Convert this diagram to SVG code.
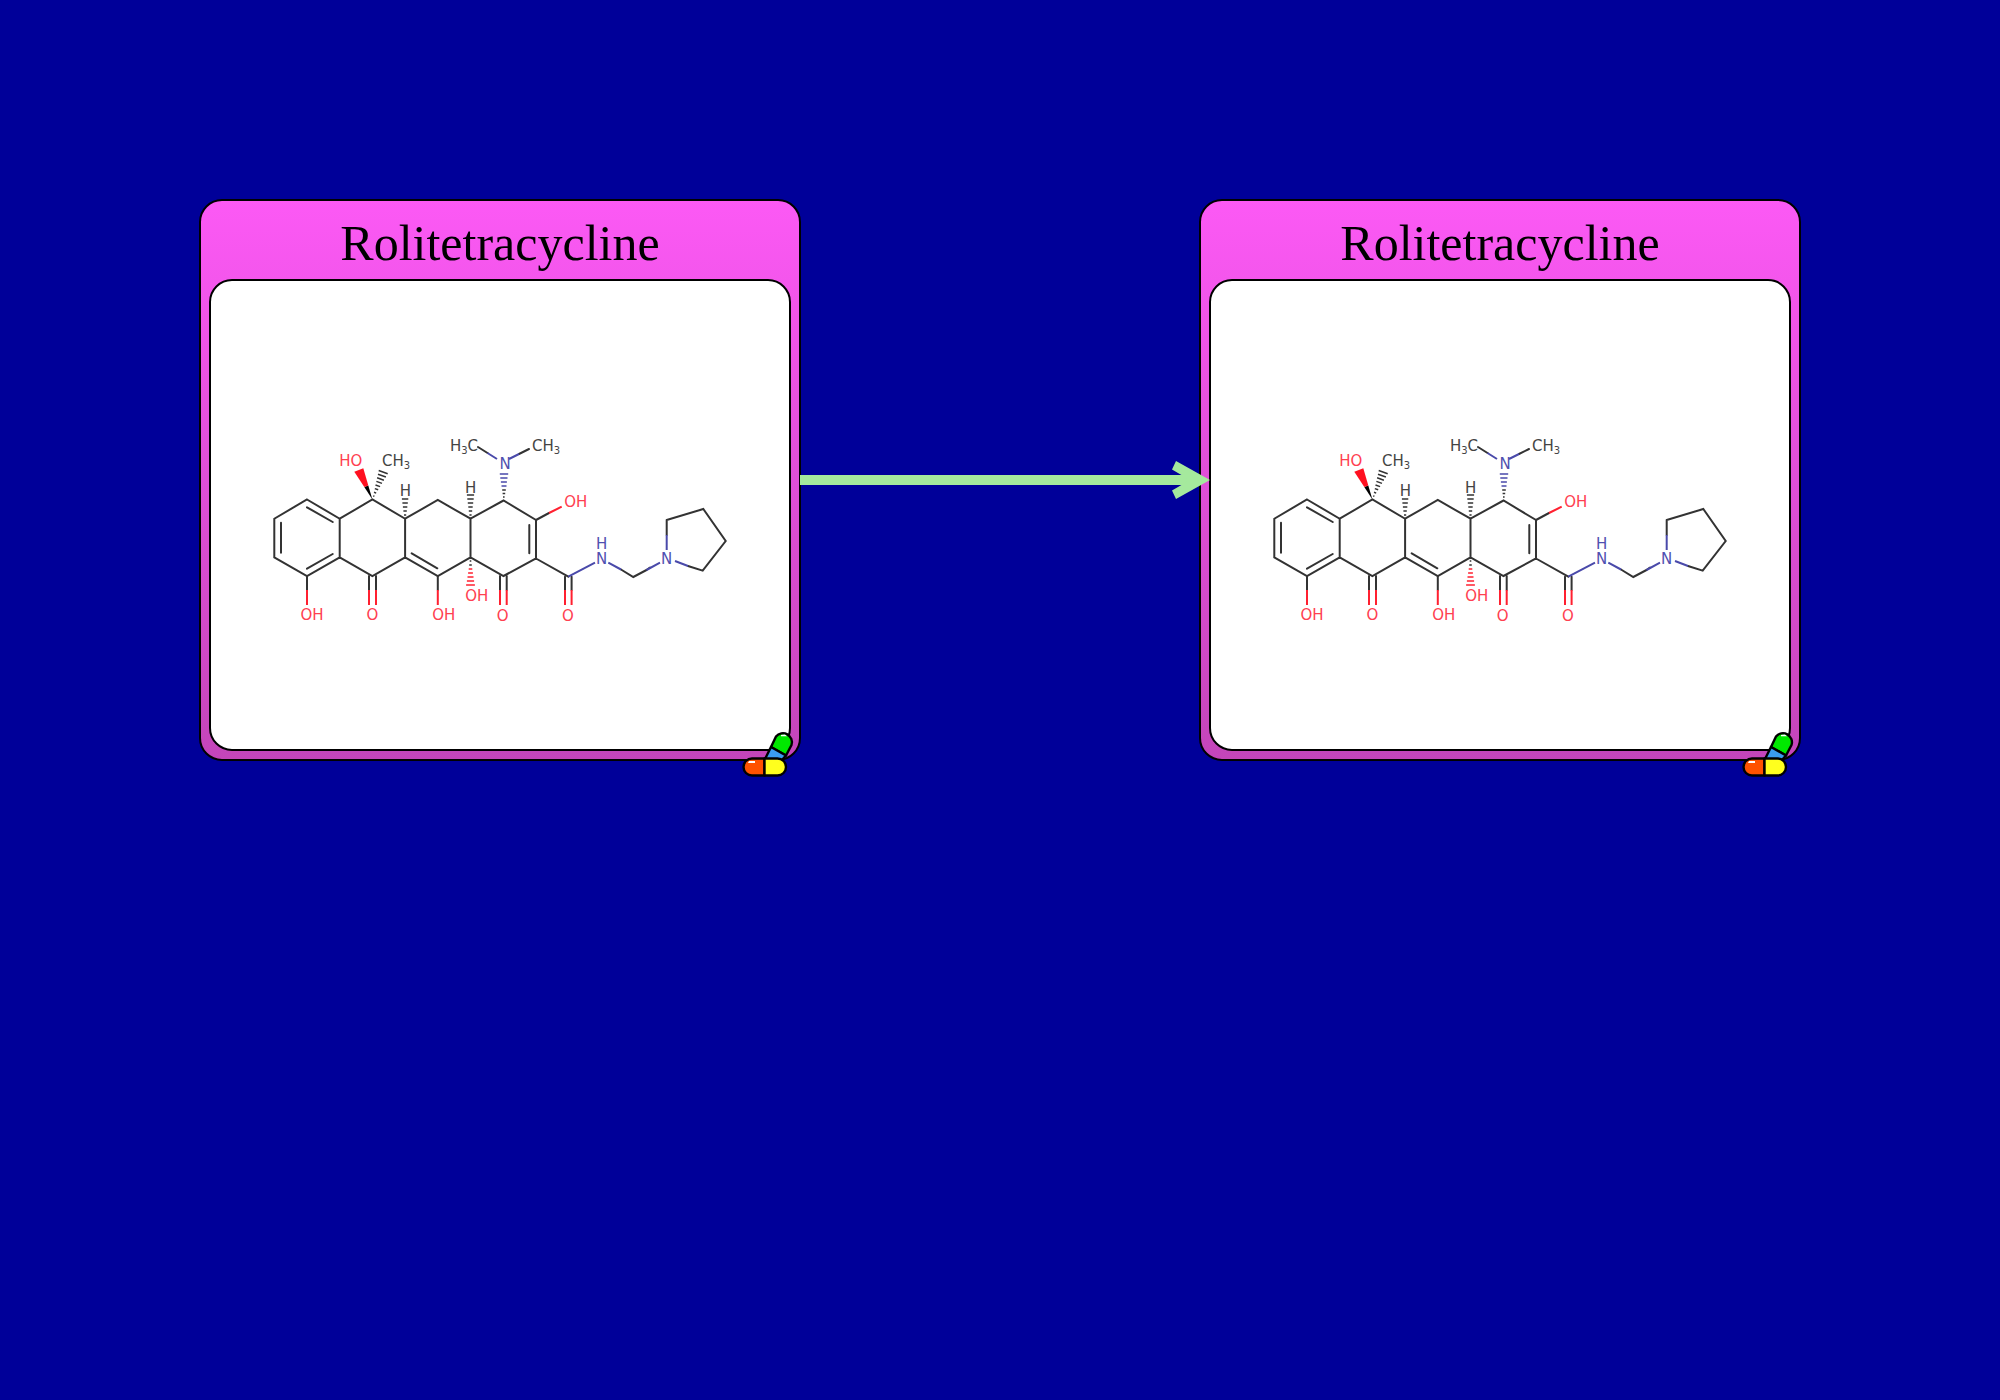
<svg xmlns="http://www.w3.org/2000/svg" width="2000" height="1400" viewBox="0 0 2000 1400">
<style>
.outer{fill:url(#pink);stroke:#000;stroke-width:2}
.inner{fill:#fff;stroke:#000;stroke-width:2}
.title{font-family:"Liberation Serif","Times New Roman",serif;font-size:50px;text-anchor:middle;fill:#000}
.b{fill:none;stroke:#333;stroke-width:2;stroke-linecap:round}
.r{fill:none;stroke:#ff2030;stroke-width:2}
.n{fill:none;stroke:#4a4aaa;stroke-width:2}
.w{stroke:#333;stroke-width:1.5}
.lb{font-family:"DejaVu Sans",sans-serif;font-size:15px;text-anchor:middle}
.sub{font-size:10px}
.o{fill:#ff4050}.m{fill:#5050b0}.k{fill:#444}
.pk{stroke:#000;stroke-width:2.4;stroke-linejoin:round}
.arrow{fill:none;stroke:#a5e99d;stroke-width:10}
</style>
<defs>
<linearGradient id="pink" x1="0" y1="0" x2="0" y2="1">
<stop offset="0" stop-color="#fc59f5"/><stop offset="1" stop-color="#c445ba"/>
</linearGradient>
<marker id="head" markerUnits="userSpaceOnUse" markerWidth="44" markerHeight="44" viewBox="0 0 44 44" refX="30" refY="22" orient="auto">
<polygon points="40,22 6,3 2,11.5 20,22 2,32.5 6,41" fill="#a5e99d"/>
</marker>
<g id="bonds">
<path class="b" d="M307 499.5L339.7 518.7V557.3L307 576L274.3 557.3V518.7ZM307 507.3L332.7 522M332.7 554L307 568.7M281 522.7V552.7M339.7 518.7L372.4 499.5L405.1 518.7V557.3L372.4 576L339.7 557.3M405.1 518.7L437.8 500L470.5 518.7V557.3L437.8 576L405.1 557.3M411.7 553.3L437.3 568.3M470.5 518.7L503.5 500.5L536 520V558.5L503.5 576L470.5 557.3M529.3 525V553.3M536 558.5L568.3 576.7"/>
<path class="b" d="M307 576V590M369 576V590M376 576V590M437.8 576V590M500 576V590M506.7 576V590M565 576.7V590M571.6 576.7V590M536 520L549 513M478 447L487.5 453M519 454L529 449"/>
<path class="b" d="M646.5 570L650 567.5M666.7 520L703.3 509L725.7 541L702.7 570.7L688 566M666.7 520V535M621 569.5L633.3 577L646.5 570"/>
<path class="r" d="M307 590V605M369 590V605M376 590V605M437.8 590V605M500 590V605M506.7 590V605M565 590V605M571.6 590V605M549 513L561.7 506.7"/>
<path class="n" d="M568.3 576.7L595 562.7M608.3 562.7L621 569.5M646.5 570L660 562.7M666.7 535V550M675 561L688 566M487.5 453L497 459M509 459L519 454"/>
<polygon points="372.4,499.5 364.3,487 368.3,485.5" fill="#000"/>
<polygon points="364.3,487 354.3,471.7 363.3,468.3 368.3,485.5" fill="#ff1020"/>
<g class="w">
<path d="M373.2 495.9L374.4 496.3M374 492.3L376.2 493.1M374.8 488.6L378.2 489.8M375.5 485L380.1 486.6M376.4 481.4L382 483.4M377.1 477.8L383.9 480.2M378 474.2L385.9 477M378.7 470.5L387.7 473.7"/>
<path d="M404 515h2.2M403.4 511h3.4M402.9 507h4.4M402.4 503h5.4M401.9 499h6.4"/>
<path d="M469.4 515h2.2M468.8 511h3.4M468.3 507h4.4M467.8 503h5.4M467.3 499h6.4M466.9 495h7.2"/>
<path d="M469.7 561h1.6M469.2 565h2.6"/>
</g>
<g stroke="#ff2030" stroke-width="1.5">
<path d="M468.7 569h3.6M468.1 573h4.8M467.5 577h6M466.9 581h7.2M466.1 585h8.8"/>
</g>
<g stroke="#333" stroke-width="1.5"><path d="M503 497h1.6M502.6 493.5h2.6M502.2 490h3.6"/></g>
<g stroke="#4a4aaa" stroke-width="1.5"><path d="M501.5 486h5M500.9 482h6M500.3 478h7.2M499.8 474h8.4"/></g>
</g>
<g id="pill">
<path class="pk" fill="#00e800" d="M771 747L776 736.5A9 9 0 0 1 791.5 745L786 755.5Z"/>
<path class="pk" fill="#3a9cf0" d="M771 747L786 755.5L781 761H764Z"/>
<path class="pk" fill="#ff5200" d="M764.5 758.5H752a8.5 8.5 0 0 0 0 17H764.5Z"/>
<path class="pk" fill="#ffff1e" d="M764.5 758.5H777.5a8.5 8.5 0 0 1 0 17H764.5Z"/>
<path fill="#fff" d="M749 761h6v2h-7ZM781 735l4-.6 2 1.8h-6Z"/>
</g>
</defs>
<rect width="2000" height="1400" fill="#000099"/>
<g id="node-left">
<rect class="outer" x="200" y="200" width="600" height="560" rx="22"/>
<rect class="inner" x="210" y="280" width="580" height="470" rx="22"/>
<text class="title" x="500" y="260">Rolitetracycline</text>
<use href="#bonds"/>
<g class="lb">
<text class="o" x="312" y="619.5">OH</text><text class="o" x="372.3" y="619.5">O</text><text class="o" x="443.7" y="619.5">OH</text><text class="o" x="476.7" y="600.5">OH</text><text class="o" x="350.7" y="465.5">HO</text><text class="o" x="502.7" y="620.5">O</text><text class="o" x="568" y="620.5">O</text><text class="o" x="575.7" y="507">OH</text>
<text class="k" x="396" y="466">CH<tspan class="sub" dy="3">3</tspan></text><text class="k" x="405.3" y="496">H</text><text class="k" x="470.7" y="493">H</text><text class="k" x="464" y="451">H<tspan class="sub" dy="3">3</tspan><tspan dy="-3">C</tspan></text><text class="k" x="546" y="451">CH<tspan class="sub" dy="3">3</tspan></text>
<text class="m" x="505" y="469">N</text><text class="m" x="601.7" y="548.5">H</text><text class="m" x="601.7" y="563.5">N</text><text class="m" x="666.7" y="563.5">N</text>
</g>
<use href="#pill"/>
</g>
<g id="node-right" transform="translate(1000 0)">
<rect class="outer" x="200" y="200" width="600" height="560" rx="22"/>
<rect class="inner" x="210" y="280" width="580" height="470" rx="22"/>
<text class="title" x="500" y="260">Rolitetracycline</text>
<use href="#bonds"/>
<g class="lb">
<text class="o" x="312" y="619.5">OH</text><text class="o" x="372.3" y="619.5">O</text><text class="o" x="443.7" y="619.5">OH</text><text class="o" x="476.7" y="600.5">OH</text><text class="o" x="350.7" y="465.5">HO</text><text class="o" x="502.7" y="620.5">O</text><text class="o" x="568" y="620.5">O</text><text class="o" x="575.7" y="507">OH</text>
<text class="k" x="396" y="466">CH<tspan class="sub" dy="3">3</tspan></text><text class="k" x="405.3" y="496">H</text><text class="k" x="470.7" y="493">H</text><text class="k" x="464" y="451">H<tspan class="sub" dy="3">3</tspan><tspan dy="-3">C</tspan></text><text class="k" x="546" y="451">CH<tspan class="sub" dy="3">3</tspan></text>
<text class="m" x="505" y="469">N</text><text class="m" x="601.7" y="548.5">H</text><text class="m" x="601.7" y="563.5">N</text><text class="m" x="666.7" y="563.5">N</text>
</g>
<use href="#pill"/>
</g>
<g id="connectors"><path class="arrow" d="M800 480H1200" marker-end="url(#head)"/></g>
</svg>
